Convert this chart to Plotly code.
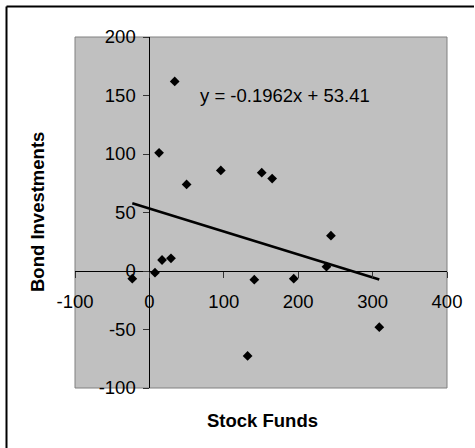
import plotly.graph_objects as go

# Data
stock_funds = [-23, 7.5, 13, 17, 29, 34, 50, 96, 132, 141, 151, 165, 194, 238, 244, 309]
bond_investments = [-6.6, -1.4, 101, 9.4, 10.8, 162, 74, 86, -72.6, -7.4, 84, 79, -6.6, 3.7, 30.2, -48]

# Linear trendline shown on chart
trend_slope = -0.1962
trend_intercept = 53.41
trend_label = "y = -0.1962x + 53.41"

x_ticks = [-100, 0, 100, 200, 300, 400]
x_tick_labels = ["-100", "0", "100", "200", "300", "400"]
y_ticks = [-100, -50, 0, 50, 100, 150, 200]
y_tick_labels = ["-100", "-50", "0", "50", "100", "150", "200"]
x_range = [-100, 400]
y_range = [-100, 200]

FONT = "Arial, Liberation Sans, sans-serif"
FS = 18.5

fig = go.Figure()

tx = [min(stock_funds), max(stock_funds)]
ty = [trend_slope * v + trend_intercept for v in tx]
fig.add_trace(go.Scatter(x=tx, y=ty, mode="lines",
                         line=dict(color="black", width=2.6),
                         hoverinfo="skip", showlegend=False))

fig.add_trace(go.Scatter(x=stock_funds, y=bond_investments, mode="markers",
                         marker=dict(symbol="diamond", size=7.5, color="black",
                                     line=dict(width=0)),
                         showlegend=False))

x_pos = (0 - y_range[0]) / (y_range[1] - y_range[0])
y_pos = (0 - x_range[0]) / (x_range[1] - x_range[0])

frame_left = (6.5 - 75) / 372
frame_top = (388 - 6.5) / 351
frame_right = (474 - 75) / 372

fig.update_layout(
    width=475, height=448,
    margin=dict(l=75, r=28, t=37, b=60),
    paper_bgcolor="white",
    plot_bgcolor="#C0C0C0",
    font=dict(family=FONT, size=FS, color="black"),
    xaxis=dict(range=x_range, tickvals=x_ticks, ticktext=x_tick_labels,
               showgrid=False, zeroline=False,
               showline=True, linecolor="black", linewidth=1,
               ticks="outside", ticklen=6, tickcolor="#333", tickwidth=1,
               anchor="free", position=x_pos, ticklabelstandoff=8,
               tickfont=dict(family=FONT, size=FS)),
    yaxis=dict(range=y_range, tickvals=y_ticks, ticktext=y_tick_labels,
               showgrid=False, zeroline=False,
               showline=True, linecolor="black", linewidth=1,
               ticks="outside", ticklen=6, tickcolor="#333", tickwidth=1,
               anchor="free", position=y_pos, ticklabelstandoff=4,
               tickfont=dict(family=FONT, size=FS)),
    shapes=[
        dict(type="rect", xref="x domain", yref="y domain", x0=0, x1=1, y0=0, y1=1,
             line=dict(color="#808080", width=1), layer="below"),
        dict(type="line", xref="paper", yref="paper",
             x0=frame_left, x1=frame_right, y0=frame_top, y1=frame_top,
             line=dict(color="black", width=2)),
        dict(type="line", xref="paper", yref="paper",
             x0=frame_left, x1=frame_left, y0=frame_top, y1=-0.2,
             line=dict(color="black", width=2)),
    ],
    annotations=[
        dict(text=trend_label, x=182, y=150, xref="x", yref="y",
             showarrow=False, font=dict(family=FONT, size=FS)),
        dict(text="<b>Stock Funds</b>", x=0.5027, y=0, xref="paper", yref="paper",
             yshift=-32, yanchor="middle", xanchor="center", showarrow=False,
             font=dict(family=FONT, size=FS)),
        dict(text="<b>Bond Investments</b>", x=0, y=0.5, xref="paper", yref="paper",
             xshift=-37.5, xanchor="center", yanchor="middle", textangle=-90,
             showarrow=False, font=dict(family=FONT, size=FS)),
    ],
)

fig.write_html("out.html",
               config={"displayModeBar": False},
               post_script="document.body.style.margin='0';document.body.style.overflow='hidden';")
